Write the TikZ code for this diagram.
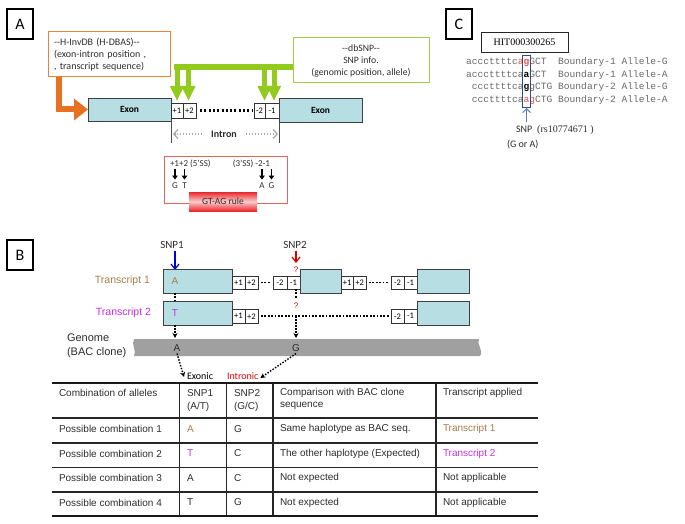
\documentclass[tikz,border=0pt]{standalone}
\usepackage{fontspec}
\setmainfont{Carlito}
\newfontfamily\arialf{Liberation Sans}
\newfontfamily\tnrf{Liberation Serif}
\newfontfamily\monof{Liberation Mono}
\usetikzlibrary{arrows.meta,calc}
\definecolor{exonfill}{RGB}{183,222,227}
\definecolor{orangeA}{RGB}{232,112,35}
\definecolor{orangebox}{RGB}{235,130,60}
\definecolor{greenA}{RGB}{146,202,30}
\definecolor{greenbox}{RGB}{160,205,70}
\definecolor{redbox}{RGB}{232,100,100}
\definecolor{brownT}{RGB}{165,125,75}
\definecolor{purpleT}{RGB}{200,45,230}
\definecolor{genomegray}{RGB}{160,160,160}
\definecolor{seqgray}{RGB}{105,105,105}
\definecolor{seqred}{RGB}{235,80,80}
\definecolor{snpblue}{RGB}{85,130,190}
\definecolor{snpbox}{RGB}{50,75,120}
\definecolor{txt}{RGB}{45,45,45}
\definecolor{intr}{RGB}{170,170,170}
\tikzset{
  every node/.style={inner sep=0pt, outer sep=0pt},
  panel/.style={draw, line width=1.5pt, minimum width=26pt, minimum height=30pt, anchor=north west, font=\fontsize{16}{16}\selectfont},
  exon/.style={draw=black!75, line width=0.8pt, fill=exonfill, anchor=north west},
  posbox/.style={draw=black!80, line width=0.6pt, fill=white, anchor=north west, font=\fontsize{8.5}{8.5}\selectfont},
  dotA/.style={line width=2.2pt, dash pattern=on 2pt off 2.3pt},
  dotB/.style={line width=1.7pt, dash pattern=on 1.7pt off 1.7pt},
  dotarr/.style={line width=1.4pt, dash pattern=on 1.5pt off 1.5pt, -{Stealth[length=5pt,width=5pt]}},
  blkarr/.style={line width=1.3pt, -{Triangle[length=4pt,width=5.5pt]}},
  grayarr/.style={intr, line width=1.3pt, dash pattern=on 1.5pt off 1.5pt, -{Straight Barb[length=4pt,width=9pt]}},
  greenarr/.style={greenA, line width=5pt, -{Triangle[length=15pt,width=13pt]}},
  seq/.style={anchor=base west, text=seqgray, font=\monof\fontsize{9.6}{9.6}\selectfont},
  tab/.style={anchor=west, text=txt, font=\arialf\fontsize{10}{10}\selectfont},
  tline/.style={line width=1.1pt, black!85},
}
\begin{document}
\begin{tikzpicture}[x=1pt,y=-1pt]
\useasboundingbox (0,0) rectangle (685,524);
%================ Panel A
\node[panel] (pA) at (7,9) {A};
\node[draw=orangebox, line width=1pt, anchor=north west, minimum width=122pt, minimum height=45pt,
      align=left, text width=110pt, inner xsep=6pt, font=\fontsize{10}{12}\selectfont, text=txt] (hinv) at (48,32)
      {-{}-H-InvDB (H-DBAS)-{}-\\(exon-intron position ,\\, transcript sequence)};
\node[draw=greenbox, line width=1pt, anchor=north west, minimum width=136pt, minimum height=45pt,
      align=center, font=\fontsize{9.7}{12}\selectfont, text=txt] (dbsnp) at (293,38)
      {-{}-dbSNP-{}-\\SNP info.\\(genomic position, allele)};
\node[exon, minimum width=83pt, minimum height=23pt, font=\bfseries\fontsize{9.5}{9.5}\selectfont] (e1) at (88,98) {Exon};
\node[posbox, minimum width=12pt, minimum height=15pt] (p1) at (171,103) {+1};
\node[posbox, minimum width=13pt, minimum height=15pt] (p2) at (183,103) {+2};
\node[posbox, minimum width=11pt, minimum height=15pt] (m2) at (254,103) {-2};
\node[posbox, minimum width=14pt, minimum height=15pt] (m1) at (265,103) {-1};
\node[exon, minimum width=83pt, minimum height=24pt, font=\bfseries\fontsize{9.5}{9.5}\selectfont] (e2) at (279,98) {Exon};
\draw[dotA] ([xshift=4pt]p2.east) -- ([xshift=-2pt]m2.west);
% orange arrow
\draw[orangeA, line width=6pt, -{Triangle[length=14pt,width=21pt]}] ([xshift=11pt]hinv.south west) |- (e1.west);
% green arrows
\coordinate (gb) at (174,67);
\draw[greenA, line width=6pt] (gb) -- (gb -| dbsnp.west);
\draw[greenarr] (p1.north |- gb) ++(0,-3) -- ([yshift=2pt]p1.north);
\draw[greenarr] ([xshift=-1pt]p2.north |- gb) ++(0,-3) -- ([xshift=-1pt,yshift=2pt]p2.north);
\draw[greenarr] ([xshift=5pt]m2.north |- gb) ++(0,-3) -- ([xshift=5pt,yshift=2pt]m2.north);
\draw[greenarr] ([xshift=2pt]m1.north |- gb) ++(0,-3) -- ([xshift=2pt,yshift=2pt]m1.north);
% intron
\draw[black!70, line width=0.8pt] (e1.south east) -- ++(0,22);
\draw[black!70, line width=0.8pt] (e2.south west) -- ++(0,21);
\node[font=\bfseries\fontsize{10}{10}\selectfont, text=txt] (intron) at (224,134) {Intron};
\draw[grayarr] ([xshift=-9pt]intron.west) -- ([xshift=2pt]intron.west -| e1.east);
\draw[grayarr] ([xshift=9pt]intron.east) -- ([xshift=-1pt]intron.east -| e2.west);
% GT-AG box
\node[draw=redbox, line width=1pt, anchor=north west, minimum width=123pt, minimum height=47pt] (gtag) at (164,156) {};
\node[anchor=west, font=\fontsize{9}{9}\selectfont, text=txt] (ss5) at (170,164) {+1+2 (5’SS)};
\node[anchor=east, font=\fontsize{9}{9}\selectfont, text=txt] (ss3) at (270,164) {(3’SS) -2-1};
\node[font=\fontsize{9}{9}\selectfont, text=txt] (gG1) at (175,186) {G};
\node[font=\fontsize{9}{9}\selectfont, text=txt] (gT) at (184.5,186) {T};
\node[font=\fontsize{9}{9}\selectfont, text=txt] (gA) at (262,186) {A};
\node[font=\fontsize{9}{9}\selectfont, text=txt] (gG2) at (271.5,186) {G};
\foreach \n in {gG1,gT,gA,gG2}{\draw[blkarr] ([yshift=14pt]\n.north) -- ([yshift=3.5pt]\n.north);}
\node[anchor=north west, minimum width=68pt, minimum height=19pt,
      top color={rgb,255:red,232;green,40;blue,45}, bottom color={rgb,255:red,235;green,40;blue,45},
      middle color={rgb,255:red,250;green,205;blue,205},
      font=\fontsize{9.5}{9.5}\selectfont, text=txt] (rule) at (189,192) {GT-AG rule};
%================ Panel C
\node[panel] (pC) at (446,9) {C};
\node[draw=black!85, line width=0.9pt, anchor=north west, minimum width=87pt, minimum height=20pt,
      font=\tnrf\fontsize{10}{10}\selectfont] (hit) at (481,32) {HIT000300265};
\node[seq] (s1) at (466,65) {acccttttc\textcolor{seqred}{a\textbf{g}}GCT};
\node[seq] (b1) at (558.2,65) {Boundary-1 Allele-G};
\node[seq] (s2) at (466,77.5) {acccttttca\textbf{\textcolor{black}{a}}GCT};
\node[seq] (b2) at (558.2,77.5) {Boundary-1 Allele-A};
\node[seq] (s3) at (471.76,90) {cccttttca\textbf{\textcolor{black}{g}}gCTG};
\node[seq] (b3) at (558.2,90) {Boundary-2 Allele-G};
\node[seq] (s4) at (471.76,102.5) {cccttttca\textcolor{seqred}{ag}CTG};
\node[seq] (b4) at (558.2,102.5) {Boundary-2 Allele-A};
\node[draw=snpbox, line width=0.9pt, anchor=north west, minimum width=7.4pt, minimum height=52pt] (snpc) at (522.8,55) {};
\draw[snpblue, line width=1pt, -{Straight Barb[length=4pt,width=8pt]}] ([yshift=-15pt]snpc.south) -- ([yshift=-1pt]snpc.south);
\node[anchor=west, font=\fontsize{10}{10}\selectfont, text=txt] (snplab) at (516,130) {SNP\enspace{\tnrf (rs10774671 )}};
\node[anchor=west, font=\fontsize{10}{10}\selectfont, text=txt] (goa) at (507,145) {(G or A)};
%================ Panel B
\node[panel] (pB) at (7,240) {B};
\node[font=\fontsize{11}{11}\selectfont, text=txt] (snp1) at (172,245) {SNP1};
\node[font=\fontsize{11}{11}\selectfont, text=txt] (snp2) at (295,245) {SNP2};
\coordinate (sx1) at (175,0);
\coordinate (sx2) at (296,0);
\draw[blue!85!black, line width=1.2pt, -{Straight Barb[length=5pt,width=8pt]}] (sx1 |- snp1.south) ++(0,2) -- (175,270);
\draw[red!85!black, line width=1.2pt, -{Straight Barb[length=5pt,width=8pt]}] (sx2 |- snp2.south) ++(0,2) -- (296,263);
\node[text=red!85!black, font=\arialf\fontsize{8}{8}\selectfont] (q1) at (296,270) {?};
% transcript 1
\node[anchor=east, text=brownT, font=\arialf\fontsize{10.5}{10.5}\selectfont] (tr1) at (150,281) {Transcript 1};
\node[exon, minimum width=69pt, minimum height=24pt] (t1e1) at (163,269) {};
\node[posbox, minimum width=13pt, minimum height=13pt] (t1p1) at (232,276) {+1};
\node[posbox, minimum width=13pt, minimum height=13pt] (t1p2) at (245,276) {+2};
\node[posbox, minimum width=14pt, minimum height=13pt] (t1m2) at (273,276) {-2};
\node[posbox, minimum width=13pt, minimum height=13pt] (t1m1) at (287,276) {-1};
\node[exon, minimum width=41pt, minimum height=24pt] (t1e2) at (300,269) {};
\node[posbox, minimum width=12.5pt, minimum height=13pt] (t1p1b) at (341,276) {+1};
\node[posbox, minimum width=12.5pt, minimum height=13pt] (t1p2b) at (353.5,276) {+2};
\node[posbox, minimum width=13pt, minimum height=13pt] (t1m2b) at (391,276) {-2};
\node[posbox, minimum width=13pt, minimum height=13pt] (t1m1b) at (404,276) {-1};
\node[exon, minimum width=52pt, minimum height=24pt] (t1e3) at (417,269) {};
\draw[dotB] ([xshift=3pt]t1p2.east) -- ([xshift=-2pt]t1m2.west);
\draw[dotB] ([xshift=3pt]t1p2b.east) -- ([xshift=-2pt]t1m2b.west);
\node[text=brownT, font=\arialf\fontsize{10}{10}\selectfont] (alA) at (175,281) {A};
% transcript 2
\node[anchor=east, text=purpleT, font=\arialf\fontsize{10.5}{10.5}\selectfont] (tr2) at (151,313) {Transcript 2};
\node[exon, minimum width=69pt, minimum height=24pt] (t2e1) at (163,301) {};
\node[posbox, minimum width=13pt, minimum height=13.5pt] (t2p1) at (232,309.5) {+1};
\node[posbox, minimum width=13pt, minimum height=13.5pt] (t2p2) at (245,309.5) {+2};
\node[posbox, minimum width=13pt, minimum height=13.5pt] (t2m2) at (391,309.5) {-2};
\node[posbox, minimum width=13pt, minimum height=13.5pt] (t2m1) at (404,309.5) {-1};
\node[exon, minimum width=52pt, minimum height=24pt] (t2e3) at (417,301) {};
\draw[dotB] ([xshift=3pt]t2p2.east) -- ([xshift=-2pt]t2m2.west) coordinate (t2dots);
\node[text=purpleT, font=\arialf\fontsize{10}{10}\selectfont] (alT) at (175,313) {T};
% vertical links
\draw[dotB] (t1e1.south -| sx1) -- (t2e1.north -| sx1);
\draw[dotB] (t1m1.south -| sx2) -- ++(0,10);
\node[text=red!85!black, font=\arialf\fontsize{8}{8}\selectfont] (q2) at (296,306) {?};
% genome
\fill[genomegray] (134,339) -- (479,339) .. controls (476,344) and (484,350) .. (480,356) -- (134,356) .. controls (137,351) and (131,345) .. (134,339) -- cycle;
\coordinate (gtop) at (300,338);
\node[anchor=west, text=txt, font=\arialf\fontsize{11}{11}\selectfont] (gen1) at (67,338) {Genome};
\node[anchor=west, text=txt, font=\arialf\fontsize{11}{11}\selectfont] (gen2) at (67,353) {(BAC clone)};
\node[text=txt, font=\arialf\fontsize{10}{10}\selectfont] (gA2) at (177,348) {A};
\node[text=txt, font=\arialf\fontsize{10}{10}\selectfont] (gG) at (296,348) {G};
\draw[dotarr] (t2e1.south -| sx1) -- (sx1 |- gtop);
\draw[dotarr] (sx2 |- t2dots) -- (sx2 |- gtop);
\node[anchor=west, text=black, font=\fontsize{10}{10}\selectfont] (exonic) at (187,376) {Exonic};
\node[anchor=west, text=red!90!black, font=\fontsize{10}{10}\selectfont] (intronic) at (227,376) {Intronic};
\draw[dotarr] ([yshift=-2pt]gA2.south) -- ([xshift=-3pt,yshift=-1pt]exonic.west);
\draw[dotarr] ([yshift=-2pt]gG.south) -- ([xshift=2pt,yshift=-2pt]intronic.east);
% table
\coordinate (tl) at (52,383);
\coordinate (tr) at (538,383);
\draw[line width=2.4pt, black!90] (tl) -- (tr);
\draw[tline] (52,418) -- (538,418);
\draw[tline] (52,443) -- (538,443);
\draw[tline] (52,467.5) -- (538,467.5);
\draw[tline] (52,492) -- (538,492);
\draw[line width=2.4pt, black!90] (52,516) -- (538,516);
\foreach \cx in {179.5,226.5,273,436}{\draw[tline] (\cx,384) -- (\cx,515);}
\node[tab] (h1) at (59,393) {Combination of alleles};
\node[tab] (h2a) at (187,393) {SNP1};
\node[tab] (h2b) at (187,407) {(A/T)};
\node[tab] (h3a) at (234,393) {SNP2};
\node[tab] (h3b) at (234,407) {(G/C)};
\node[tab] (h4a) at (280,393) {Comparison with BAC clone};
\node[tab] (h4b) at (280,406) {sequence};
\node[tab] (h5) at (443,393) {Transcript applied};
\node[tab] (r1a) at (59,429) {Possible combination 1};
\node[tab, text=brownT] (r1b) at (187,429) {A};
\node[tab] (r1c) at (234,429) {G};
\node[tab] (r1d) at (280,429) {Same haplotype as BAC seq.};
\node[tab, text=brownT] (r1e) at (443,429) {Transcript 1};
\node[tab] (r2a) at (59,453.5) {Possible combination 2};
\node[tab, text=purpleT] (r2b) at (187,453.5) {T};
\node[tab] (r2c) at (234,453.5) {C};
\node[tab] (r2d) at (280,453.5) {The other haplotype (Expected)};
\node[tab, text=purpleT] (r2e) at (443,453.5) {Transcript 2};
\node[tab] (r3a) at (59,478) {Possible combination 3};
\node[tab] (r3b) at (187,478) {A};
\node[tab] (r3c) at (234,478) {C};
\node[tab] (r3d) at (280,478) {Not expected};
\node[tab] (r3e) at (443,478) {Not applicable};
\node[tab] (r4a) at (59,502.5) {Possible combination 4};
\node[tab] (r4b) at (187,502.5) {T};
\node[tab] (r4c) at (234,502.5) {G};
\node[tab] (r4d) at (280,502.5) {Not expected};
\node[tab] (r4e) at (443,502.5) {Not applicable};
\end{tikzpicture}
\end{document}
